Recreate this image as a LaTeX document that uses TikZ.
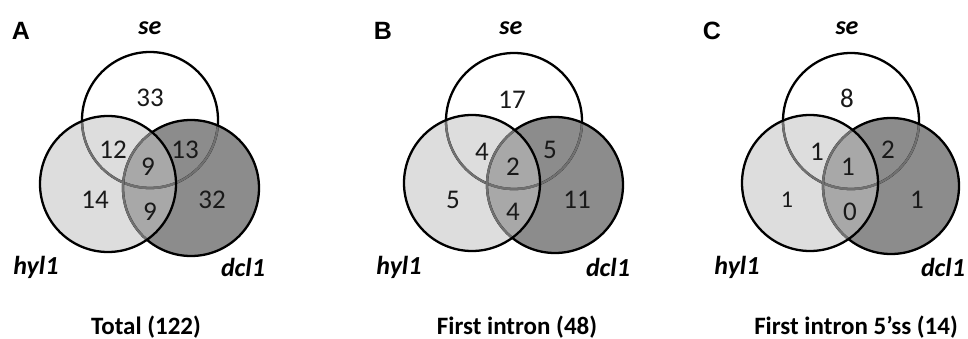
\documentclass[tikz,border=0pt]{standalone}
\usepackage{fontspec}
\setmainfont{Carlito}
\newfontfamily\arialfont{Liberation Sans}
\definecolor{hylfill}{gray}{0.865}
\definecolor{dclfill}{gray}{0.55}
\definecolor{bothfill}{gray}{0.66}
\definecolor{arcgray}{gray}{0.44}
\tikzset{
  vline/.style={line width=2.3pt},
  num/.style={font=\fontsize{27}{27}\selectfont, inner sep=0pt, text=black!90},
  setlabel/.style={font=\fontsize{26}{26}\selectfont\bfseries\itshape, inner sep=0pt},
  panellabel/.style={font=\arialfont\fontsize{25}{25}\selectfont\bfseries, inner sep=0pt},
  titlelabel/.style={font=\fontsize{25}{25}\selectfont\bfseries, inner sep=0pt},
}
\newcommand\VennCircles[3]{%
  \fill[hylfill] (#2) circle[radius=68];
  \fill[dclfill] (#3) circle[radius=68];
  \begin{scope}\clip (#2) circle[radius=68]; \fill[bothfill] (#3) circle[radius=68];\end{scope}
  \draw[vline] (#1) circle[radius=68];
  \begin{scope}\clip (#2) circle[radius=68]; \draw[vline,arcgray] (#1) circle[radius=68];\end{scope}
  \begin{scope}\clip (#3) circle[radius=68]; \draw[vline,arcgray] (#1) circle[radius=68];\end{scope}
  \draw[vline] (#3) circle[radius=68];
  \begin{scope}\clip (#2) circle[radius=68]; \draw[vline,arcgray] (#3) circle[radius=68];\end{scope}
  \draw[vline] (#2) circle[radius=68];
}
\begin{document}
\begin{tikzpicture}[x=1pt,y=-1pt]
\useasboundingbox[fill=white] (0,0) rectangle (968,339);
% Panel A
\coordinate (Ase) at (150,120);
\coordinate (Ahyl) at (108,184);
\coordinate (Adcl) at (191,188);
\VennCircles{Ase}{Ahyl}{Adcl}
\node[panellabel] (Alab) at (21,31) {A};
\node[setlabel] (Asel) at (150,28) {se};
\node[setlabel] (Ahyll) at (36,267) {hyl1};
\node[setlabel] (Adcll) at (243,267) {dcl1};
\node[num] (An1) at (150,98) {33};
\node[num] (An2) at (113,150) {12};
\node[num] (An3) at (148,167) {9};
\node[num] (An4) at (185,150) {13};
\node[num] (An5) at (95,200) {14};
\node[num] (An6) at (150,212) {9};
\node[num] (An7) at (212,200) {32};
\node[titlelabel] (Atitle) at (146,327) {Total (122)};
% Panel B
\coordinate (Bse) at (514,121);
\coordinate (Bhyl) at (472,183);
\coordinate (Bdcl) at (555,185);
\VennCircles{Bse}{Bhyl}{Bdcl}
\node[panellabel] (Blab) at (383,31) {B};
\node[setlabel] (Bsel) at (511,28) {se};
\node[setlabel] (Bhyll) at (399,267) {hyl1};
\node[setlabel] (Bdcll) at (608,267) {dcl1};
\node[num] (Bn1) at (512,100) {17};
\node[num] (Bn2) at (482,152) {4};
\node[num] (Bn3) at (513,167) {2};
\node[num] (Bn4) at (550,150) {5};
\node[num] (Bn5) at (453,200) {5};
\node[num] (Bn6) at (513,212) {4};
\node[num] (Bn7) at (577,200) {11};
\node[titlelabel] (Btitle) at (517,327) {First intron (48)};
% Panel C
\coordinate (Cse) at (851,121);
\coordinate (Chyl) at (810,183);
\coordinate (Cdcl) at (891,186);
\VennCircles{Cse}{Chyl}{Cdcl}
\node[panellabel] (Clab) at (712,31) {C};
\node[setlabel] (Csel) at (847,28) {se};
\node[setlabel] (Chyll) at (737,267) {hyl1};
\node[setlabel] (Cdcll) at (943,267) {dcl1};
\node[num] (Cn1) at (847,98) {8};
\node[num] (Cn2) at (817,152) {1};
\node[num] (Cn3) at (848,167) {1};
\node[num] (Cn4) at (888,150) {2};
\node[num,font=\fontsize{24}{24}\selectfont] (Cn5) at (787,200) {1};
\node[num] (Cn6) at (850,212) {0};
\node[num] (Cn7) at (917,200) {1};
\node[titlelabel] (Ctitle) at (856,327) {First intron 5’ss (14)};
\end{tikzpicture}
\end{document}
